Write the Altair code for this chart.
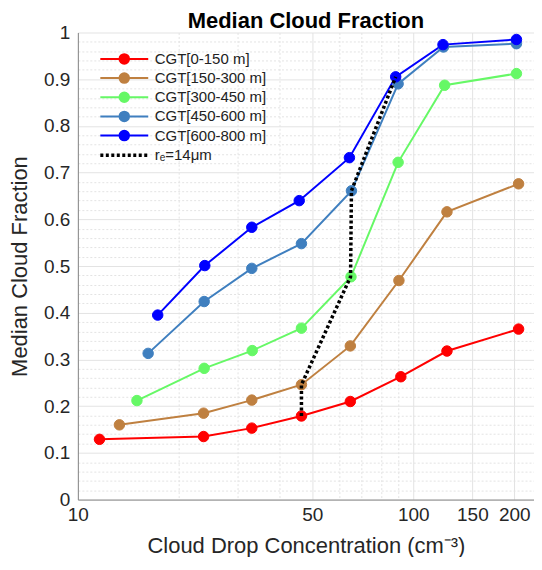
import altair as alt
import pandas as pd

series_names = ["CGT[0-150 m]", "CGT[150-300 m]", "CGT[300-450 m]", "CGT[450-600 m]", "CGT[600-800 m]"]
series_colors = ["#ff0000", "#bf8040", "#66f866", "#3f7fbf", "#0000ff"]

red_x = [11.6, 23.7, 33.0, 46.4, 64.9, 91.8, 126, 206]
red_y = [0.129, 0.135, 0.153, 0.179, 0.210, 0.263, 0.318, 0.365]
brown_x = [13.3, 23.7, 33.0, 46.4, 64.9, 90.6, 126, 206]
brown_y = [0.160, 0.185, 0.213, 0.246, 0.329, 0.469, 0.616, 0.676]
green_x = [15.0, 23.8, 33.1, 46.4, 65.2, 90.1, 124, 203]
green_y = [0.212, 0.281, 0.319, 0.367, 0.477, 0.722, 0.887, 0.912]
steel_x = [16.2, 23.8, 33.0, 46.4, 65.4, 90.1, 123, 203]
steel_y = [0.313, 0.424, 0.495, 0.548, 0.661, 0.890, 0.969, 0.976]
blue_x = [17.3, 23.9, 33.0, 45.7, 64.5, 88.6, 122.6, 203]
blue_y = [0.395, 0.501, 0.583, 0.640, 0.732, 0.905, 0.974, 0.985]

dotted_label = "rₑ=14μm"
dotted_x = [46.4, 46.4, 65.0, 65.4, 88.6]
dotted_y = [0.179, 0.246, 0.477, 0.661, 0.905]

x_major = [10, 50, 100, 150, 200]
x_grid = [10, 20, 30, 40, 50, 60, 70, 80, 90, 100, 150, 200]
y_grid = [round(i * 0.02, 2) for i in range(51)]

rows = []
for name, xs, ys in zip(series_names,
                        [red_x, brown_x, green_x, steel_x, blue_x],
                        [red_y, brown_y, green_y, steel_y, blue_y]):
    for i, (xv, yv) in enumerate(zip(xs, ys)):
        rows.append({"series": name, "order": i, "x": xv, "y": yv})
df = pd.DataFrame(rows)
dot_df = pd.DataFrame({"x": dotted_x, "y": dotted_y,
                       "order": list(range(len(dotted_x))),
                       "label": [dotted_label] * len(dotted_x)})

FONT = "Liberation Sans"
x_scale = alt.Scale(type="log", domain=[10, 229], nice=False)
y_scale = alt.Scale(domain=[0, 1], nice=False)

x_axis = alt.Axis(
    values=x_grid, tickCount=200,
    labelExpr="indexof([10,50,100,150,200], datum.value) >= 0 ? format(datum.value, 'd') : ''",
    labelFlush=False, labelOverlap=False, ticks=False,
    title="Cloud Drop Concentration (cm⁻³)",
    gridDash={"condition": {"test": "indexof([10,50,100,150,200], datum.value) >= 0", "value": []},
              "value": [2, 2]},
    labelPadding=6, titlePadding=11,
)
y_axis = alt.Axis(
    values=y_grid, tickCount=200,
    labelExpr="abs(datum.value*10 - round(datum.value*10)) < 0.001 ? format(datum.value, '.1~f') : ''",
    labelOverlap=False, ticks=False,
    title="Median Cloud Fraction",
    gridDash={"condition": {"test": "abs(datum.value*10 - round(datum.value*10)) < 0.001", "value": []},
              "value": [2, 2]},
    labelPadding=8, titlePadding=12,
)

leg_path = "M-4.8,0L4.8,0M-0.95,0A0.95,0.95,0,1,1,0.95,0A0.95,0.95,0,1,1,-0.95,0Z"
color_legend = alt.Legend(
    title=None, orient="none", legendX=39, legendY=19,
    symbolType=leg_path, symbolSize=100, symbolStrokeWidth=2,
    labelFont=FONT, labelFontSize=15, labelColor="#222222",
    labelOffset=23, rowPadding=0.2,
)

color_scale = alt.Scale(domain=series_names, range=series_colors)

base = alt.Chart(df)
lines = base.mark_line(strokeWidth=2).encode(
    x=alt.X("x:Q", scale=x_scale, axis=x_axis),
    y=alt.Y("y:Q", scale=y_scale, axis=y_axis),
    color=alt.Color("series:N", scale=color_scale, legend=color_legend),
    order=alt.Order("order:Q"),
)
points = base.mark_point(filled=True, size=110, opacity=1, strokeWidth=1).encode(
    x=alt.X("x:Q", scale=x_scale),
    y=alt.Y("y:Q", scale=y_scale),
    color=alt.Color("series:N", scale=color_scale, legend=color_legend),
    stroke=alt.Stroke("series:N", scale=color_scale, legend=color_legend),
)
dotted = alt.Chart(dot_df).mark_line(color="black", strokeWidth=3.5).encode(
    x=alt.X("x:Q", scale=x_scale),
    y=alt.Y("y:Q", scale=y_scale),
    order=alt.Order("order:Q"),
    strokeDash=alt.StrokeDash(
        "label:N",
        scale=alt.Scale(domain=[dotted_label], range=[[3, 2.5]]),
        legend=alt.Legend(
            title=None, orient="none", legendX=39, legendY=115.5,
            symbolType="M-4.8,0L4.8,0", symbolSize=100, symbolStrokeWidth=3.5,
            symbolStrokeColor="black",
            labelFont=FONT, labelFontSize=15, labelColor="#222222",
            labelOffset=23,
        ),
    ),
)

chart = alt.layer(lines, points, dotted).resolve_scale(
    color="shared", stroke="shared"
).properties(
    width=457, height=468, background="white",
    padding={"left": 0, "top": 2, "right": 0, "bottom": 0},
    title=alt.TitleParams("Median Cloud Fraction", font=FONT, fontSize=22,
                          fontWeight="bold", color="black", offset=-10),
).configure_view(stroke=None).configure_axis(
    labelFont=FONT, labelFontSize=19, labelColor="#262626",
    titleFont=FONT, titleFontSize=22, titleFontWeight="normal", titleColor="#262626",
    domainColor="#888888", domainWidth=1,
    gridColor="#e3e3e3", gridWidth=1,
)

chart.save("out.html", embed_options={"renderer": "svg", "actions": False})
